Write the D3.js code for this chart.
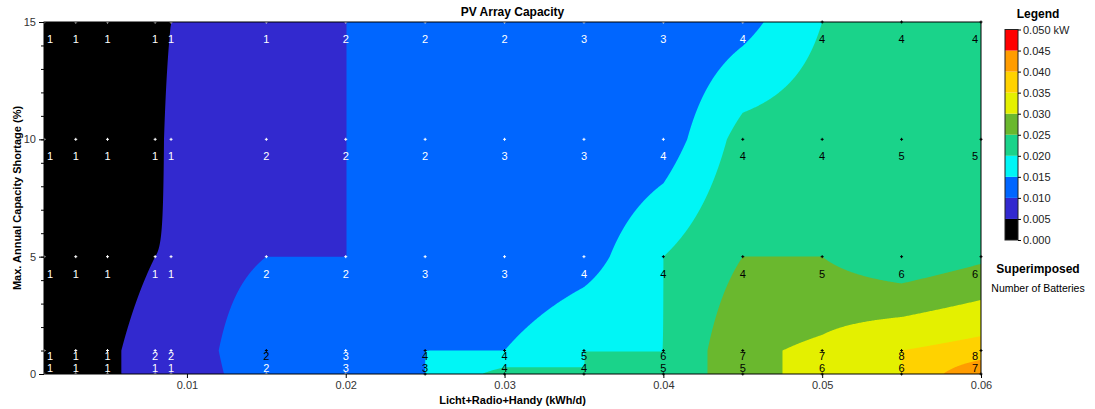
<!DOCTYPE html>
<html>
<head>
<meta charset="utf-8">
<script src="https://cdn.jsdelivr.net/npm/d3@7"></script>
<style>
  body { margin: 0; background: #fff; }
  text { font-family: "Liberation Sans", Arial, sans-serif; }
</style>
</head>
<body>
<svg id="chart" width="1095" height="409"></svg>
<script>
// Sensitivity grid: load (kWh/d) along x, max. capacity shortage (%) along y
const loads = [0.001, 0.003, 0.005, 0.008, 0.009, 0.015, 0.02, 0.025, 0.03, 0.035, 0.04, 0.045, 0.05, 0.055, 0.06];
const shortages = [0, 1, 5, 10, 15];

// PV array capacity (kW) at each grid point, one array per shortage value
const pv0  = [0, 0, 0.003, 0.0099, 0.005, 0.014, 0.01, 0.015, 0.022, 0.02, 0.02, 0.029, 0.031, 0.035, 0.0446];
const pv1  = [0, 0, 0.003, 0.0099, 0.005, 0.015, 0.01, 0.015, 0.015, 0.02, 0.02, 0.029, 0.031, 0.035, 0.037];
const pv5  = [0, 0, 0, 0.005, 0.006, 0.01, 0.01, 0.01, 0.01, 0.0126, 0.02, 0.025, 0.025, 0.021, 0.024];
const pv10 = [0, 0, 0, 0, 0.009, 0.005, 0.01, 0.01, 0.01, 0.01, 0.012, 0.022, 0.023, 0.022, 0.02];
const pv15 = [0, 0, 0, 0, 0.005, 0.005, 0.01, 0.01, 0.01, 0.01, 0.01, 0.0132, 0.02, 0.02, 0.02];

// superimposed: number of batteries
const bat0  = [1, 1, 1, 1, 1, 2, 3, 3, 4, 4, 5, 5, 6, 6, 7];
const bat1  = [1, 1, 1, 2, 2, 2, 3, 4, 4, 5, 6, 7, 7, 8, 8];
const bat5  = [1, 1, 1, 1, 1, 2, 2, 3, 3, 4, 4, 4, 5, 6, 6];
const bat10 = [1, 1, 1, 1, 1, 2, 2, 2, 3, 3, 4, 4, 4, 5, 5];
const bat15 = [1, 1, 1, 1, 1, 1, 2, 2, 2, 3, 3, 4, 4, 4, 4];

// legend bands
const bandEdges = [0, 0.005, 0.01, 0.015, 0.02, 0.025, 0.03, 0.035, 0.04, 0.045, 0.05];
const bandColors = ["#000000", "#3229cf", "#0066ff", "#00f6f6", "#1ad38a", "#6ab82e", "#e4f000", "#ffd200", "#ff9c00", "#ff0000"];

const xTicks = [0.01, 0.02, 0.03, 0.04, 0.05, 0.06];
const yTicks = [0, 5, 10, 15];

const pvRows = [pv0, pv1, pv5, pv10, pv15];
const batRows = [bat0, bat1, bat5, bat10, bat15];

const W = 1095, H = 409;
const margin = { left: 44, top: 22, right: 114, bottom: 35 };
const pw = W - margin.left - margin.right;
const ph = H - margin.top - margin.bottom;

const svg = d3.select("#chart");
const x = d3.scaleLinear().domain([0.001, 0.06]).range([0, pw]);
const y = d3.scaleLinear().domain([0, 15]).range([ph, 0]);

// bilinear value inside the grid cell
function pvAt(xv, yv) {
  const i = Math.max(0, Math.min(d3.bisectRight(loads, xv) - 1, loads.length - 2));
  const j = Math.max(0, Math.min(d3.bisectRight(shortages, yv) - 1, shortages.length - 2));
  const tx = Math.max(0, Math.min(1, (xv - loads[i]) / (loads[i + 1] - loads[i])));
  const ty = Math.max(0, Math.min(1, (yv - shortages[j]) / (shortages[j + 1] - shortages[j])));
  const a = pvRows[j][i], b = pvRows[j][i + 1], c = pvRows[j + 1][i], d = pvRows[j + 1][i + 1];
  return a * (1 - tx) * (1 - ty) + b * tx * (1 - ty) + c * (1 - tx) * ty + d * tx * ty;
}

const values = new Float64Array(pw * ph);
for (let r = 0; r < ph; r++) {
  const yv = y.invert(r + 0.5);
  for (let k = 0; k < pw; k++) values[r * pw + k] = pvAt(x.invert(k + 0.5), yv);
}

const plot = svg.append("g").attr("transform", `translate(${margin.left},${margin.top})`);
plot.append("rect").attr("width", pw).attr("height", ph).attr("fill", bandColors[0]);

const contours = d3.contours()
  .size([pw, ph])
  .thresholds(bandEdges.slice(1, -1).map(t => t - 1e-9))(values);

plot.append("g").selectAll("path")
  .data(contours)
  .join("path")
  .attr("d", d3.geoPath(d3.geoIdentity()))
  .attr("fill", (d, i) => bandColors[i + 1]);

// grid points with battery numbers
const points = [];
shortages.forEach((s, j) => loads.forEach((l, i) => {
  points.push({ x: l, y: s, pv: pvRows[j][i], n: batRows[j][i] });
}));
const ink = d => d.pv < 0.015 ? "#fff" : "#000";

plot.append("g").selectAll("path")
  .data(points)
  .join("path")
  .attr("transform", d => `translate(${x(d.x)},${y(d.y)})`)
  .attr("d", "M-1.5,0H1.5M0,-1.5V1.5")
  .attr("stroke", ink)
  .attr("stroke-width", 1);

plot.append("g").selectAll("text")
  .data(points)
  .join("text")
  .attr("x", d => Math.max(6, Math.min(pw - 6, x(d.x))))
  .attr("y", d => y(d.y) + (d.y >= 5 ? 17 : d.y > 0 ? 6 : -6))
  .attr("dy", "0.35em")
  .attr("text-anchor", "middle")
  .attr("font-size", 11)
  .attr("fill", ink)
  .text(d => d.n);

// axes
const xAxis = plot.append("g").attr("transform", `translate(0,${ph})`)
  .call(d3.axisBottom(x).tickValues(xTicks).tickSize(4).tickPadding(3).tickFormat(d3.format(".2f")));
const yMinor = plot.append("g")
  .call(d3.axisLeft(y).tickValues(d3.range(0, 16)).tickSize(3).tickFormat(""));
const yAxis = plot.append("g")
  .call(d3.axisLeft(y).tickValues(yTicks).tickSize(5).tickPadding(3));
[xAxis, yAxis, yMinor].forEach(g => {
  g.select(".domain").remove();
  g.selectAll("text").attr("font-size", 11).attr("fill", "#333").attr("font-family", null);
});

plot.append("rect").attr("width", pw).attr("height", ph)
  .attr("fill", "none").attr("stroke", "#000").attr("stroke-width", 1);

// titles
svg.append("text").attr("x", margin.left + pw / 2).attr("y", 16)
  .attr("text-anchor", "middle").attr("font-size", 12).attr("font-weight", "bold")
  .text("PV Array Capacity");
svg.append("text").attr("x", margin.left + pw / 2).attr("y", 404)
  .attr("text-anchor", "middle").attr("font-size", 11).attr("font-weight", "bold")
  .text("Licht+Radio+Handy (kWh/d)");
svg.append("text")
  .attr("transform", `translate(21,${margin.top + ph / 2}) rotate(-90)`)
  .attr("text-anchor", "middle").attr("font-size", 11).attr("font-weight", "bold")
  .text("Max. Annual Capacity Shortage (%)");

// legend
const legend = svg.append("g");
const ly = d3.scaleLinear().domain([0, 0.05]).range([240, 29.5]);
legend.append("text").attr("x", 1038).attr("y", 18)
  .attr("text-anchor", "middle").attr("font-size", 12).attr("font-weight", "bold")
  .text("Legend");
legend.append("g").selectAll("rect")
  .data(bandColors)
  .join("rect")
  .attr("x", 1005).attr("width", 13)
  .attr("y", (c, i) => ly(bandEdges[i + 1]))
  .attr("height", (c, i) => ly(bandEdges[i]) - ly(bandEdges[i + 1]))
  .attr("fill", c => c);
legend.append("rect").attr("x", 1005).attr("y", ly(0.05)).attr("width", 13)
  .attr("height", ly(0) - ly(0.05)).attr("fill", "none").attr("stroke", "#222");
const lAxis = legend.append("g").attr("transform", "translate(1018,0)")
  .call(d3.axisRight(ly).tickValues(bandEdges).tickSize(3).tickPadding(2)
    .tickFormat(d => d3.format(".3f")(d) + (d === 0.05 ? " kW" : "")));
lAxis.select(".domain").remove();
lAxis.selectAll("text").attr("font-size", 11).attr("fill", "#222").attr("font-family", null);

legend.append("text").attr("x", 1038).attr("y", 273)
  .attr("text-anchor", "middle").attr("font-size", 12).attr("font-weight", "bold")
  .text("Superimposed");
legend.append("text").attr("x", 1038).attr("y", 292)
  .attr("text-anchor", "middle").attr("font-size", 10.5)
  .text("Number of Batteries");
</script>
</body>
</html>
